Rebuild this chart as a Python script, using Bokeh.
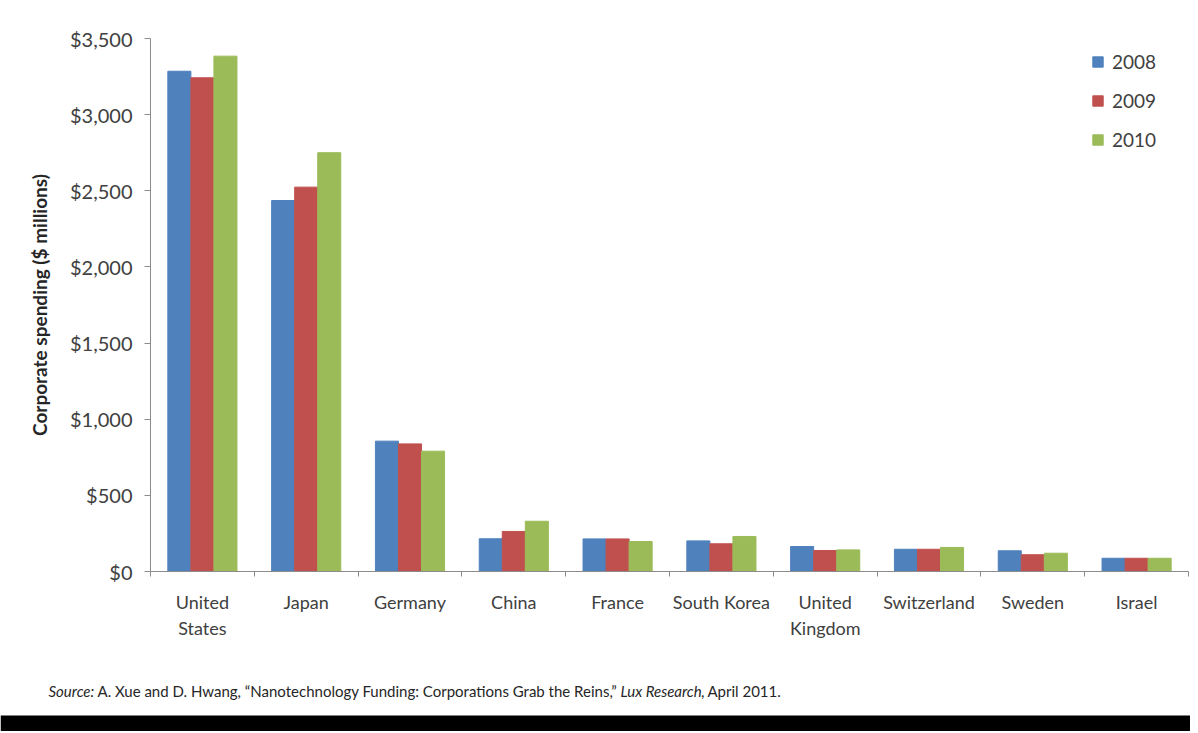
from bokeh.plotting import figure
from bokeh.models import (ColumnDataSource, Legend, LegendItem, BoxAnnotation,
                          NumeralTickFormatter, Range1d, FixedTicker, Label)
from bokeh.transform import dodge
from bokeh.layouts import column
from bokeh.embed import file_html
from bokeh.resources import INLINE

# ---- data ----
countries = ["United\nStates", "Japan", "Germany", "China", "France", "South Korea",
             "United\nKingdom", "Switzerland", "Sweden", "Israel"]
years = ["2008", "2009", "2010"]
spend_2008 = [3285, 2436, 856, 215, 214, 201, 164, 146, 136, 87]
spend_2009 = [3242, 2524, 838, 263, 214, 182, 138, 146, 110, 87]
spend_2010 = [3384, 2750, 790, 330, 197, 230, 142, 158, 120, 87]
y_ticks = [0, 500, 1000, 1500, 2000, 2500, 3000, 3500]
colors = ["#4F81BD", "#C0504D", "#9BBB59"]
source_parts = ["Source:",
                "A. Xue and D. Hwang, \u201cNanotechnology Funding: Corporations Grab the Reins,\u201d",
                "Lux Research,",
                "April 2011."]
source_styles = ["italic", "normal", "italic", "normal"]

FONT = "Lato"
TXT = "#404040"
AX = "#8C8C8C"

n = len(countries)
centers = [k + 0.5 for k in range(n)]
bounds = list(range(n + 1))

W, H = 1190, 660
p = figure(x_range=Range1d(0, n), y_range=Range1d(0, 3500),
           width=W, height=H, output_backend="svg", toolbar_location=None,
           min_border_left=150, min_border_right=2,
           min_border_top=38, min_border_bottom=89, outline_line_color=None)
p.xgrid.grid_line_color = None
p.ygrid.grid_line_color = None

src = ColumnDataSource(dict(xc=centers, country=countries, y2008=spend_2008,
                            y2009=spend_2009, y2010=spend_2010))
bw = 0.222
renderers = []
for i, (yr, col) in enumerate(zip(years, colors)):
    r = p.vbar(x=dodge("xc", (i - 1) * bw), top="y" + yr,
               width=bw, source=src, fill_color=col, line_color=col)
    renderers.append(r)

# y axis
ya = p.yaxis[0]
ya.ticker = FixedTicker(ticks=y_ticks)
ya.formatter = NumeralTickFormatter(format="$0,0")
ya.minor_tick_line_color = None
ya.major_tick_in = 0
ya.major_tick_out = 6
ya.major_tick_line_color = AX
ya.axis_line_color = AX
ya.major_label_text_font = FONT
ya.major_label_text_font_size = "20px"
ya.major_label_text_color = TXT
ya.major_label_standoff = 12
ya.axis_label = "Corporate spending ($ millions)"
ya.axis_label_text_font = FONT
ya.axis_label_text_font_style = "bold"
ya.axis_label_text_font_size = "19px"
ya.axis_label_text_color = "#262626"
ya.axis_label_standoff = 16

# x axis: ticks between categories, labels at centers
xa = p.xaxis[0]
xa.ticker = FixedTicker(ticks=centers, minor_ticks=bounds)
xa.major_label_overrides = {c: name for c, name in zip(centers, countries)}
xa.major_tick_line_color = None
xa.major_tick_out = 0
xa.major_tick_in = 0
xa.minor_tick_line_color = AX
xa.minor_tick_out = 5
xa.minor_tick_in = 0
xa.axis_line_color = AX
xa.major_label_text_font = FONT
xa.major_label_text_font_size = "18px"
xa.major_label_text_color = TXT
xa.major_label_standoff = 14

legend = Legend(items=[LegendItem(label=yr, renderers=[r]) for yr, r in zip(years, renderers)],
                location=(941, 420), glyph_width=13, glyph_height=13, label_height=20,
                spacing=16, padding=0, margin=0, border_line_color=None,
                background_fill_alpha=0, label_text_font=FONT,
                label_text_font_size="19px", label_text_color=TXT, label_standoff=8)
p.add_layout(legend)

# footer: source line + black band
FH = 71
foot = figure(width=W, height=FH, x_range=Range1d(0, W), y_range=Range1d(0, FH),
              output_backend="svg", toolbar_location=None,
              x_axis_location=None, y_axis_location=None, min_border=0,
              outline_line_color=None)
if "frame_align" in foot.properties():
    foot.frame_align = False
    p.frame_align = False
foot.xgrid.grid_line_color = None
foot.ygrid.grid_line_color = None
foot.add_layout(BoxAnnotation(left=0, right=W, bottom=0, top=16, fill_color="black",
                              fill_alpha=1, line_color=None))
xs = [48, 97, 620, 707]
for t, st, x in zip(source_parts, source_styles, xs):
    foot.add_layout(Label(x=x, y=41, text=t,
                          text_font=FONT, text_font_style=st, text_font_size="15px",
                          text_color="#262626", text_baseline="middle", text_align="left"))

layout = column(p, foot, spacing=0)
open("out.html", "w").write(file_html(layout, INLINE))
